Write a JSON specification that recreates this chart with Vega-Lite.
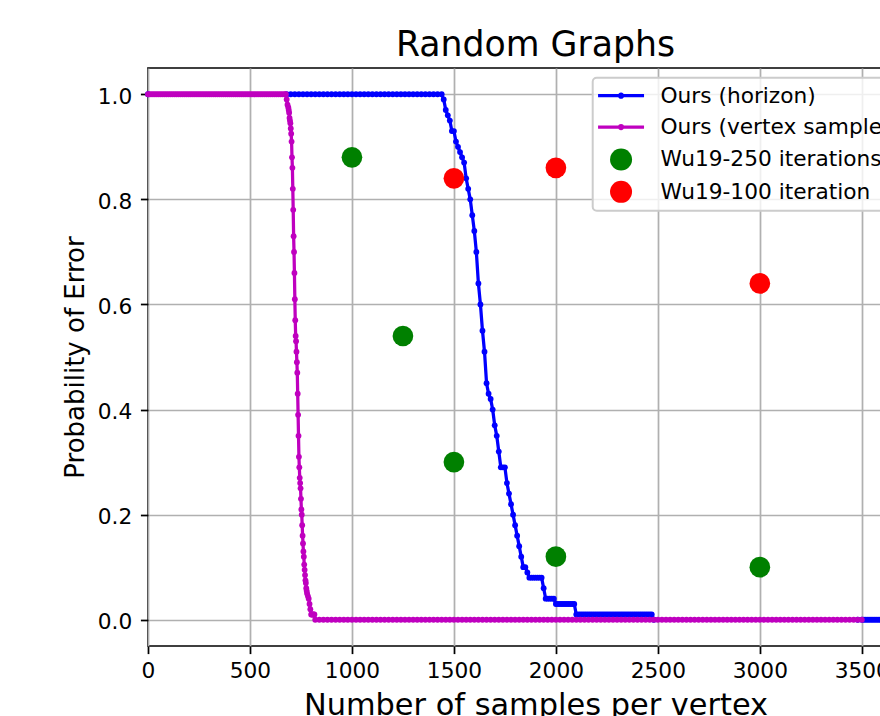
{
"$schema": "https://vega.github.io/schema/vega-lite/v6.json",
"autosize": {"type": "none"},
"width": 775,
"height": 578,
"padding": {"left": 148, "top": 68, "right": -43, "bottom": 70},
"background": "#ffffff",
"title": {"text": "Random Graphs", "font": "DejaVu Sans", "fontSize": 34.7, "fontWeight": "normal", "color": "#000000", "anchor": "middle", "baseline": "alphabetic", "offset": -34},
"datasets": {
"h": [
{"x":0,"y":1},{"x":680,"y":1},{"x":700,"y":1},{"x":720,"y":1},{"x":740,"y":1},{"x":760,"y":1},{"x":780,"y":1},{"x":800,"y":1},{"x":820,"y":1},{"x":840,"y":1},{"x":860,"y":1},{"x":880,"y":1},{"x":900,"y":1},{"x":920,"y":1},{"x":940,"y":1},{"x":960,"y":1},{"x":980,"y":1},{"x":1000,"y":1},{"x":1020,"y":1},{"x":1040,"y":1},{"x":1060,"y":1},{"x":1080,"y":1},{"x":1100,"y":1},{"x":1120,"y":1},{"x":1140,"y":1},{"x":1160,"y":1},{"x":1180,"y":1},{"x":1200,"y":1},{"x":1220,"y":1},{"x":1240,"y":1},{"x":1260,"y":1},{"x":1280,"y":1},{"x":1300,"y":1},{"x":1320,"y":1},{"x":1340,"y":1},{"x":1360,"y":1},{"x":1380,"y":1},{"x":1400,"y":1},{"x":1420,"y":1},{"x":1440,"y":1},
{"x":1450,"y":0.99},{"x":1460,"y":0.97},{"x":1470,"y":0.96},{"x":1480,"y":0.95},{"x":1490,"y":0.93},{"x":1500,"y":0.93},{"x":1510,"y":0.91},{"x":1520,"y":0.90},{"x":1530,"y":0.89},{"x":1540,"y":0.88},{"x":1550,"y":0.87},{"x":1560,"y":0.84},{"x":1570,"y":0.82},{"x":1580,"y":0.80},{"x":1590,"y":0.77},{"x":1600,"y":0.74},{"x":1610,"y":0.70},{"x":1620,"y":0.64},{"x":1630,"y":0.60},{"x":1640,"y":0.55},{"x":1650,"y":0.51},{"x":1660,"y":0.45},{"x":1670,"y":0.43},{"x":1680,"y":0.42},{"x":1690,"y":0.40},{"x":1700,"y":0.37},{"x":1710,"y":0.35},{"x":1720,"y":0.32},{"x":1730,"y":0.29},{"x":1740,"y":0.29},{"x":1750,"y":0.29},{"x":1760,"y":0.26},{"x":1770,"y":0.24},{"x":1780,"y":0.22},{"x":1790,"y":0.20},{"x":1800,"y":0.18},{"x":1810,"y":0.16},{"x":1820,"y":0.14},{"x":1830,"y":0.12},{"x":1840,"y":0.10},{"x":1850,"y":0.10},{"x":1860,"y":0.09},{"x":1870,"y":0.08},{"x":1880,"y":0.08},{"x":1890,"y":0.08},{"x":1900,"y":0.08},{"x":1910,"y":0.08},{"x":1920,"y":0.08},{"x":1930,"y":0.08},{"x":1940,"y":0.06},{"x":1950,"y":0.04},{"x":1960,"y":0.04},{"x":1970,"y":0.04},{"x":1980,"y":0.04},{"x":1990,"y":0.04},{"x":2000,"y":0.03},{"x":2010,"y":0.03},{"x":2020,"y":0.03},{"x":2030,"y":0.03},{"x":2040,"y":0.03},{"x":2050,"y":0.03},{"x":2060,"y":0.03},{"x":2070,"y":0.03},{"x":2080,"y":0.03},{"x":2090,"y":0.03},
{"x":2100,"y":0.01},{"x":2110,"y":0.01},{"x":2120,"y":0.01},{"x":2130,"y":0.01},{"x":2140,"y":0.01},{"x":2150,"y":0.01},{"x":2160,"y":0.01},{"x":2170,"y":0.01},{"x":2180,"y":0.01},{"x":2190,"y":0.01},{"x":2200,"y":0.01},{"x":2210,"y":0.01},{"x":2220,"y":0.01},{"x":2230,"y":0.01},{"x":2240,"y":0.01},{"x":2250,"y":0.01},{"x":2260,"y":0.01},{"x":2270,"y":0.01},{"x":2280,"y":0.01},{"x":2290,"y":0.01},{"x":2300,"y":0.01},{"x":2310,"y":0.01},{"x":2320,"y":0.01},{"x":2330,"y":0.01},{"x":2340,"y":0.01},{"x":2350,"y":0.01},{"x":2360,"y":0.01},{"x":2370,"y":0.01},{"x":2380,"y":0.01},{"x":2390,"y":0.01},{"x":2400,"y":0.01},{"x":2410,"y":0.01},{"x":2420,"y":0.01},{"x":2430,"y":0.01},{"x":2440,"y":0.01},{"x":2450,"y":0.01},{"x":2460,"y":0.01},{"x":2470,"y":0.01},
{"x":2480,"y":0},{"x":3480,"y":0},{"x":3500,"y":0},{"x":3510,"y":0},{"x":3520,"y":0},{"x":3530,"y":0},{"x":3540,"y":0},{"x":3550,"y":0},{"x":3560,"y":0},{"x":3570,"y":0},{"x":3580,"y":0},{"x":3590,"y":0},{"x":3600,"y":0},{"x":3620,"y":0},{"x":3640,"y":0},{"x":3660,"y":0},{"x":3680,"y":0},{"x":3700,"y":0},{"x":3720,"y":0},{"x":3740,"y":0},{"x":3760,"y":0},{"x":3780,"y":0},{"x":3800,"y":0}
],
"v": [
{"x":0,"y":1},{"x":10,"y":1},{"x":20,"y":1},{"x":30,"y":1},{"x":40,"y":1},{"x":50,"y":1},{"x":60,"y":1},{"x":70,"y":1},{"x":80,"y":1},{"x":90,"y":1},{"x":100,"y":1},{"x":110,"y":1},{"x":120,"y":1},{"x":130,"y":1},{"x":140,"y":1},{"x":150,"y":1},{"x":160,"y":1},{"x":170,"y":1},{"x":180,"y":1},{"x":190,"y":1},{"x":200,"y":1},{"x":210,"y":1},{"x":220,"y":1},{"x":230,"y":1},{"x":240,"y":1},{"x":250,"y":1},{"x":260,"y":1},{"x":270,"y":1},{"x":280,"y":1},{"x":290,"y":1},{"x":300,"y":1},{"x":310,"y":1},{"x":320,"y":1},{"x":330,"y":1},{"x":340,"y":1},{"x":350,"y":1},{"x":360,"y":1},{"x":370,"y":1},{"x":380,"y":1},{"x":390,"y":1},{"x":400,"y":1},{"x":410,"y":1},{"x":420,"y":1},{"x":430,"y":1},{"x":440,"y":1},{"x":450,"y":1},{"x":460,"y":1},{"x":470,"y":1},{"x":480,"y":1},{"x":490,"y":1},{"x":500,"y":1},{"x":510,"y":1},{"x":520,"y":1},{"x":530,"y":1},{"x":540,"y":1},{"x":550,"y":1},{"x":560,"y":1},{"x":570,"y":1},{"x":580,"y":1},{"x":590,"y":1},{"x":600,"y":1},{"x":610,"y":1},{"x":620,"y":1},{"x":630,"y":1},{"x":640,"y":1},{"x":650,"y":1},{"x":660,"y":1},{"x":670,"y":1},{"x":676,"y":1},
{"x":680,"y":0.99},{"x":684,"y":0.98},{"x":688,"y":0.975},{"x":690,"y":0.97},{"x":692,"y":0.965},{"x":694,"y":0.955},{"x":696,"y":0.95},{"x":698,"y":0.945},{"x":700,"y":0.935},{"x":702,"y":0.925},{"x":704,"y":0.91},{"x":706,"y":0.88},{"x":708,"y":0.86},{"x":710,"y":0.82},{"x":712,"y":0.78},{"x":714,"y":0.73},{"x":716,"y":0.70},{"x":718,"y":0.66},{"x":720,"y":0.61},{"x":722,"y":0.57},{"x":724,"y":0.54},{"x":726,"y":0.53},{"x":728,"y":0.51},{"x":730,"y":0.49},{"x":732,"y":0.47},{"x":734,"y":0.43},{"x":736,"y":0.39},{"x":738,"y":0.35},{"x":740,"y":0.31},{"x":742,"y":0.29},{"x":744,"y":0.27},{"x":746,"y":0.26},{"x":748,"y":0.25},{"x":750,"y":0.23},{"x":752,"y":0.21},{"x":754,"y":0.20},{"x":756,"y":0.18},{"x":758,"y":0.16},{"x":760,"y":0.145},{"x":762,"y":0.13},{"x":764,"y":0.12},{"x":766,"y":0.105},{"x":768,"y":0.095},{"x":770,"y":0.085},{"x":772,"y":0.075},{"x":774,"y":0.07},{"x":776,"y":0.06},{"x":778,"y":0.055},{"x":780,"y":0.05},{"x":784,"y":0.045},{"x":788,"y":0.04},{"x":792,"y":0.03},{"x":796,"y":0.02},{"x":800,"y":0.01},{"x":804,"y":0.01},{"x":808,"y":0.01},{"x":812,"y":0.01},{"x":816,"y":0.01},
{"x":820,"y":0},{"x":840,"y":0},{"x":860,"y":0},{"x":880,"y":0},{"x":900,"y":0},{"x":920,"y":0},{"x":940,"y":0},{"x":960,"y":0},{"x":980,"y":0},{"x":1000,"y":0},{"x":1020,"y":0},{"x":1040,"y":0},{"x":1060,"y":0},{"x":1080,"y":0},{"x":1100,"y":0},{"x":1120,"y":0},{"x":1140,"y":0},{"x":1160,"y":0},{"x":1180,"y":0},{"x":1200,"y":0},{"x":1220,"y":0},{"x":1240,"y":0},{"x":1260,"y":0},{"x":1280,"y":0},{"x":1300,"y":0},{"x":1320,"y":0},{"x":1340,"y":0},{"x":1360,"y":0},{"x":1380,"y":0},{"x":1400,"y":0},{"x":1420,"y":0},{"x":1440,"y":0},{"x":1460,"y":0},{"x":1480,"y":0},{"x":1500,"y":0},{"x":1520,"y":0},{"x":1540,"y":0},{"x":1560,"y":0},{"x":1580,"y":0},{"x":1600,"y":0},{"x":1620,"y":0},{"x":1640,"y":0},{"x":1660,"y":0},{"x":1680,"y":0},{"x":1700,"y":0},{"x":1720,"y":0},{"x":1740,"y":0},{"x":1760,"y":0},{"x":1780,"y":0},{"x":1800,"y":0},{"x":1820,"y":0},{"x":1840,"y":0},{"x":1860,"y":0},{"x":1880,"y":0},{"x":1900,"y":0},{"x":1920,"y":0},{"x":1940,"y":0},{"x":1960,"y":0},{"x":1980,"y":0},{"x":2000,"y":0},{"x":2020,"y":0},{"x":2040,"y":0},{"x":2060,"y":0},{"x":2080,"y":0},{"x":2100,"y":0},{"x":2120,"y":0},{"x":2140,"y":0},{"x":2160,"y":0},{"x":2180,"y":0},{"x":2200,"y":0},{"x":2220,"y":0},{"x":2240,"y":0},{"x":2260,"y":0},{"x":2280,"y":0},{"x":2300,"y":0},{"x":2320,"y":0},{"x":2340,"y":0},{"x":2360,"y":0},{"x":2380,"y":0},{"x":2400,"y":0},{"x":2420,"y":0},{"x":2440,"y":0},{"x":2460,"y":0},{"x":2480,"y":0},{"x":2500,"y":0},{"x":2520,"y":0},{"x":2540,"y":0},{"x":2560,"y":0},{"x":2580,"y":0},{"x":2600,"y":0},{"x":2620,"y":0},{"x":2640,"y":0},{"x":2660,"y":0},{"x":2680,"y":0},{"x":2700,"y":0},{"x":2720,"y":0},{"x":2740,"y":0},{"x":2760,"y":0},{"x":2780,"y":0},{"x":2800,"y":0},{"x":2820,"y":0},{"x":2840,"y":0},{"x":2860,"y":0},{"x":2880,"y":0},{"x":2900,"y":0},{"x":2920,"y":0},{"x":2940,"y":0},{"x":2960,"y":0},{"x":2980,"y":0},{"x":3000,"y":0},{"x":3020,"y":0},{"x":3040,"y":0},{"x":3060,"y":0},{"x":3080,"y":0},{"x":3100,"y":0},{"x":3120,"y":0},{"x":3140,"y":0},{"x":3160,"y":0},{"x":3180,"y":0},{"x":3200,"y":0},{"x":3220,"y":0},{"x":3240,"y":0},{"x":3260,"y":0},{"x":3280,"y":0},{"x":3300,"y":0},{"x":3320,"y":0},{"x":3340,"y":0},{"x":3360,"y":0},{"x":3380,"y":0},{"x":3400,"y":0},{"x":3420,"y":0},{"x":3440,"y":0},{"x":3460,"y":0},{"x":3480,"y":0},{"x":3500,"y":0}
],
"w250": [{"x":1000,"y":0.88},{"x":1250,"y":0.54},{"x":1500,"y":0.30},{"x":2000,"y":0.12},{"x":3000,"y":0.10}],
"w100": [{"x":1500,"y":0.84},{"x":2000,"y":0.86},{"x":3000,"y":0.64}],
"leg": [{"s":"Ours (horizon)"},{"s":"Ours (vertex samples)"},{"s":"Wu19-250 iterations"},{"s":"Wu19-100 iteration"}]
},
"encoding": {
"x": {"field": "x", "type": "quantitative", "scale": {"domain": [0, 3800], "nice": false, "zero": false},
 "axis": {"values": [0,500,1000,1500,2000,2500,3000,3500], "format": "d", "title": "Number of samples per vertex", "titleFontSize": 30.4, "labelPadding": 6.9, "titlePadding": 8.4}},
"y": {"field": "y", "type": "quantitative", "scale": {"domain": [-0.05, 1.05], "nice": false, "zero": false},
 "axis": {"values": [0,0.2,0.4,0.6,0.8,1.0], "format": ".1f", "title": "Probability of Error", "titleFontSize": 26, "labelPadding": 8.7, "labelOffset": 2, "titlePadding": 8.3}}
},
"layer": [
{"data": {"name": "h"}, "mark": {"type": "line", "color": "#0000ff", "strokeWidth": 3.26}},
{"data": {"name": "h"}, "mark": {"type": "circle", "color": "#0000ff", "size": 34, "opacity": 1}},
{"data": {"name": "v"}, "mark": {"type": "line", "color": "#bf00bf", "strokeWidth": 3.26}},
{"data": {"name": "v"}, "mark": {"type": "circle", "color": "#bf00bf", "size": 34, "opacity": 1}},
{"data": {"name": "w250"}, "mark": {"type": "circle", "color": "#008000", "size": 428, "opacity": 1}},
{"data": {"name": "w100"}, "mark": {"type": "circle", "color": "#ff0000", "size": 428, "opacity": 1}},
{"data": {"name": "leg"}, "mark": {"type": "point", "filled": true, "size": 484, "opacity": 0},
 "encoding": {
  "x": {"value": 0}, "y": {"value": 0},
  "color": {"field": "s", "type": "nominal",
   "scale": {"domain": ["Ours (horizon)", "Ours (vertex samples)", "Wu19-250 iterations", "Wu19-100 iteration"], "range": ["#0000ff", "#bf00bf", "#008000", "#ff0000"]},
   "legend": {"title": null, "orient": "none", "legendX": 444.7, "legendY": 9.8, "direction": "vertical",
    "padding": 7, "rowPadding": 8.4, "symbolOffset": 10.5, "labelOffset": 28.6, "symbolSize": 484, "symbolStrokeWidth": 3,
    "symbolOpacity": 1, "labelFont": "DejaVu Sans", "labelFontSize": 21.7, "labelColor": "#000000", "labelLimit": 500,
    "fillColor": "rgba(255,255,255,0.8)", "strokeColor": "#cccccc", "cornerRadius": 4,
    "encode": {
     "legend": {"update": {"strokeWidth": {"value": 2}}},
     "symbols": {"update": {"fill": {"scale": "color", "field": "value"}, "stroke": {"scale": "color", "field": "value"}, "strokeWidth": {"signal": "datum.index < 2 ? 3.26 : 0"}, "opacity": {"value": 1}}}}}},
  "shape": {"field": "s", "type": "nominal",
   "scale": {"domain": ["Ours (horizon)", "Ours (vertex samples)", "Wu19-250 iterations", "Wu19-100 iteration"],
    "range": ["M-2.09,0L2.09,0M-0.14,0A0.14,0.14,0,1,1,0.14,0A0.14,0.14,0,1,1,-0.14,0Z", "M-2.09,0L2.09,0M-0.14,0A0.14,0.14,0,1,1,0.14,0A0.14,0.14,0,1,1,-0.14,0Z", "circle", "circle"]}}
 }}
],
"config": {
 "font": "DejaVu Sans",
 "view": {"stroke": "#000000", "strokeWidth": 1.74},
 "axis": {"domain": false, "grid": true, "gridColor": "#b0b0b0", "gridWidth": 1.74, "gridOpacity": 1,
  "ticks": true, "tickColor": "#000000", "tickSize": 7.6, "tickWidth": 1.74,
  "labelFont": "DejaVu Sans", "labelFontSize": 21.7, "labelColor": "#000000", "labelFlush": false, "labelOverlap": false,
  "titleFont": "DejaVu Sans", "titleFontWeight": "normal", "titleColor": "#000000"}
}
}
